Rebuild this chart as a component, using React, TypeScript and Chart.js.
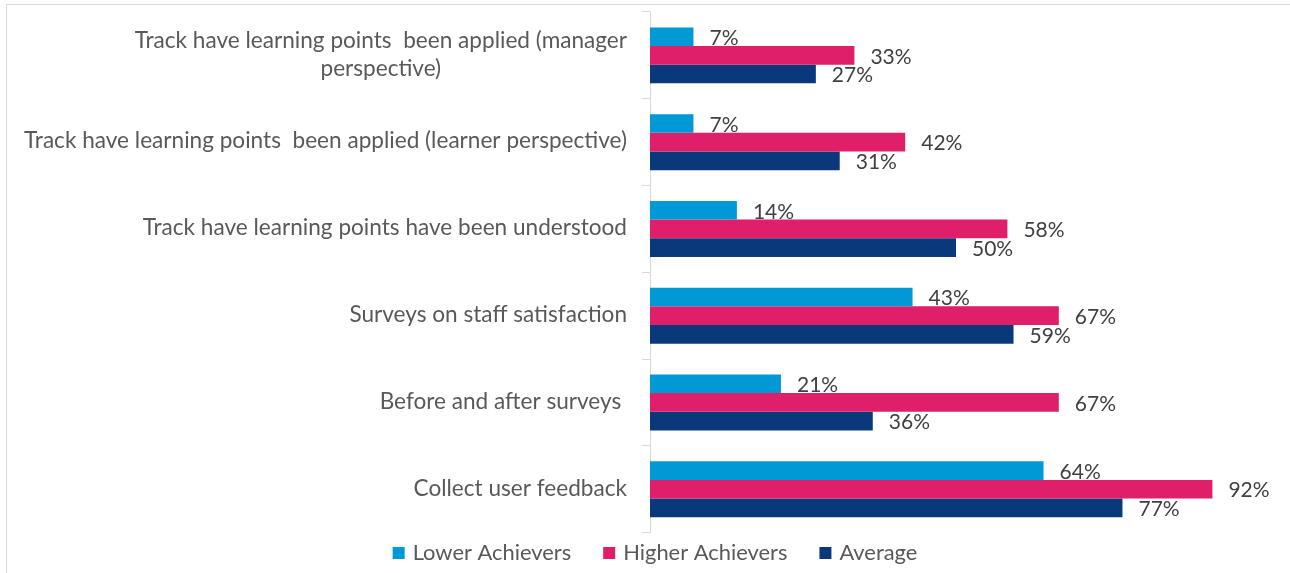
import React, { useEffect, useRef } from "react";
import { Chart, registerables } from "chart.js";

Chart.register(...registerables);

const categories = [
  "Track have learning points  been applied (manager\nperspective)",
  "Track have learning points  been applied (learner perspective)",
  "Track have learning points have been understood",
  "Surveys on staff satisfaction",
  "Before and after surveys ",
  "Collect user feedback",
];
const seriesNames = ["Lower Achievers", "Higher Achievers", "Average"];
const lowerAchievers = [7.1, 7.1, 14.2, 42.9, 21.4, 64.3];
const higherAchievers = [33.4, 41.7, 58.4, 66.8, 66.8, 91.9];
const average = [27.1, 31.0, 50.0, 59.4, 36.4, 77.2];
const seriesColors = ["#0099D6", "#DF1F6A", "#09387B"];
const axisMin = 0;
const axisMax = 100;

const FONT = "Lato, 'Open Sans', sans-serif";

const categoryLabelPlugin = {
  id: "categoryLabels",
  afterDraw(chart: any) {
    const ctx = chart.ctx;
    const yScale = chart.scales.y;
    const area = chart.chartArea;
    ctx.save();
    ctx.font = `22.6px ${FONT}`;
    ctx.fillStyle = "#595959";
    ctx.textAlign = "center";
    ctx.textBaseline = "middle";
    const lineH = 28;
    categories.forEach((cat, i) => {
      const lines = cat.split("\n");
      const maxW = Math.max(...lines.map((l) => ctx.measureText(l).width));
      const right = area.left - 23;
      const cx = right - maxW / 2;
      const cy = yScale.getPixelForValue(i);
      lines.forEach((l, j) => {
        const y = cy + (j - (lines.length - 1) / 2) * lineH - 1;
        ctx.fillText(l, cx, y);
      });
    });
    ctx.restore();
  },
};

const dataLabelPlugin = {
  id: "dataLabels",
  afterDatasetsDraw(chart: any) {
    const ctx = chart.ctx;
    ctx.save();
    ctx.font = `21px ${FONT}`;
    ctx.fillStyle = "#404040";
    ctx.textAlign = "left";
    ctx.textBaseline = "middle";
    chart.data.datasets.forEach((ds: any, di: number) => {
      const meta = chart.getDatasetMeta(di);
      meta.data.forEach((bar: any, i: number) => {
        const v = ds.data[i];
        ctx.fillText(`${Math.round(v)}%`, bar.x + 16, bar.y + 1.5);
      });
    });
    ctx.restore();
  },
};

const legendPlugin = {
  id: "customLegend",
  afterDraw(chart: any) {
    const ctx = chart.ctx;
    ctx.save();
    ctx.font = `21.9px ${FONT}`;
    ctx.textBaseline = "middle";
    ctx.textAlign = "left";
    const box = 12;
    const gap = 8;
    const spacing = 32;
    const items = chart.data.datasets.map((ds: any) => ({
      label: ds.label,
      color: ds.backgroundColor,
      w: box + gap + ctx.measureText(ds.label).width,
    }));
    const total = items.reduce((s: number, it: any) => s + it.w, 0) + spacing * (items.length - 1);
    let x = 655 - total / 2;
    const y = 553;
    items.forEach((it: any) => {
      ctx.fillStyle = it.color;
      ctx.fillRect(x, y - box / 2, box, box);
      ctx.fillStyle = "#595959";
      ctx.fillText(it.label, x + box + gap, y);
      x += it.w + spacing;
    });
    ctx.restore();
  },
};

export default function App() {
  const canvasRef = useRef<HTMLCanvasElement | null>(null);

  useEffect(() => {
    if (!canvasRef.current) return;
    const seriesData = [lowerAchievers, higherAchievers, average];
    const chart = new Chart(canvasRef.current, {
      type: "bar",
      data: {
        labels: categories.map((c) => c.replace("\n", " ")),
        datasets: seriesNames.map((name, k) => ({
          label: name,
          data: seriesData[k],
          backgroundColor: seriesColors[k],
          borderWidth: 0,
          categoryPercentage: 0.645,
          barPercentage: 1,
        })),
      },
      options: {
        indexAxis: "y",
        responsive: false,
        animation: false,
        layout: { padding: { left: 642, right: 28, top: 12, bottom: 40.4 } },
        scales: {
          x: { display: false, min: axisMin, max: axisMax },
          y: {
            grid: {
              drawOnChartArea: false,
              drawTicks: true,
              tickLength: 8,
              color: "#D9D9D9",
              offset: true,
            },
            border: { color: "#D9D9D9", width: 1 },
            ticks: { display: false },
          },
        },
        plugins: {
          legend: { display: false },
          tooltip: { enabled: false },
        },
      },
      plugins: [categoryLabelPlugin, dataLabelPlugin, legendPlugin],
    });
    return () => chart.destroy();
  }, []);

  return (
    <div
      style={{
        position: "fixed",
        left: 0,
        top: 0,
        width: 1290,
        height: 573,
        overflow: "hidden",
        background: "#ffffff",
      }}
    >
      <div
        style={{
          position: "absolute",
          left: 6,
          top: 4,
          width: 1400,
          height: 700,
          border: "1px solid #D9D9D9",
        }}
      />
      <canvas
        ref={canvasRef}
        width={1290}
        height={573}
        style={{ position: "absolute", left: 0, top: 0, width: 1290, height: 573 }}
      />
    </div>
  );
}
